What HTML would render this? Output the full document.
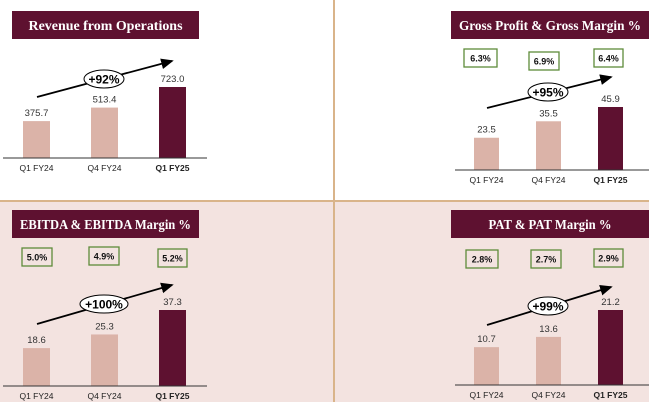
<!DOCTYPE html>
<html><head><meta charset="utf-8">
<style>
body{margin:0;width:649px;height:402px;overflow:hidden;background:#fff;font-family:"Liberation Sans",sans-serif;}
svg{display:block}
</style></head>
<body>
<svg id="c" width="649" height="402" xmlns="http://www.w3.org/2000/svg">
<defs><marker id="ah" markerWidth="8" markerHeight="8" refX="6" refY="4" orient="auto"><path d="M0,1 L7,4 L0,7 Z" fill="#000"/></marker></defs>
<rect x="0" y="201" width="649" height="201" fill="#f3e3e0"/>
<line x1="0" y1="201" x2="649" y2="201" stroke="#d9b48a" stroke-width="2"/>
<line x1="334" y1="0" x2="334" y2="402" stroke="#d9b48a" stroke-width="2"/>
</svg>
<script>
const categories=["Q1 FY24","Q4 FY24","Q1 FY25"];
const revenueValues=[375.7,513.4,723.0];
const grossValues=[23.5,35.5,45.9];
const ebitdaValues=[18.6,25.3,37.3];
const patValues=[10.7,13.6,21.2];
const grossMargins=["6.3%","6.9%","6.4%"];
const ebitdaMargins=["5.0%","4.9%","5.2%"];
const patMargins=["2.8%","2.7%","2.9%"];
const growthLabels=["+92%","+95%","+100%","+99%"];
const titles=["Revenue from Operations","Gross Profit & Gross Margin %","EBITDA & EBITDA Margin %","PAT & PAT Margin %"];

const NS="http://www.w3.org/2000/svg";
const svg=document.getElementById('c');
function mk(tag,attrs,parent){const e=document.createElementNS(NS,tag);for(const k in attrs)e.setAttribute(k,attrs[k]);(parent||svg).appendChild(e);return e;}

const panels=[
 {vals:revenueValues,margins:null,title:titles[0],tl:154,growth:growthLabels[0],tx:12,ty:11,tw:187,base:158,scale:71/723,bx:[23,91,159],bw:27,lx:3,lx2:207,arrow:[37,97,172,61],ell:[104,79,20,9],mb:[]},
 {vals:grossValues,margins:grossMargins,title:titles[1],tl:182,growth:growthLabels[1],tx:451,ty:11,tw:198,base:170,scale:63/45.9,bx:[474,536,598],bw:25,lx:455,lx2:649,arrow:[487,108,611,77],ell:[548,92,20,9],mb:[[464,49,33],[529,52,30],[594,49,29]]},
 {vals:ebitdaValues,margins:ebitdaMargins,title:titles[2],tl:171,growth:growthLabels[2],tx:12,ty:210,tw:187,base:386,scale:76/37.3,bx:[23,91,159],bw:27,lx:3,lx2:207,arrow:[37,324,172,285],ell:[104,304,24,9],mb:[[22,248,30],[89,247,30],[158,249,29]]},
 {vals:patValues,margins:patMargins,title:titles[3],tl:123,growth:growthLabels[3],tx:451,ty:210,tw:198,base:385,scale:75/21.2,bx:[474,536,598],bw:25,lx:455,lx2:649,arrow:[487,325,611,287],ell:[548,306,20,9],mb:[[466,250,32],[531,250,30],[594,249,29]]}
];
const names=["revenue","gross-profit","ebitda","pat"];
panels.forEach((p,pi)=>{
 const g=mk('g',{});
 
 
 const tb=mk('rect',{x:p.tx,y:p.ty,width:p.tw,height:28,fill:'#5e1130'},g);
 
 
 const tt=mk('text',{x:p.tx+p.tw/2,y:p.ty+19,'text-anchor':'middle',fill:'#fff','font-family':'"Liberation Serif",serif','font-weight':'bold','font-size':'14',textLength:p.tl,lengthAdjust:'spacingAndGlyphs'},g);
 tt.textContent=p.title;
 
 
 p.vals.forEach((v,i)=>{
  const h=v*p.scale;
  const r=mk('rect',{x:p.bx[i],y:p.base-h,width:p.bw,height:h,fill:i==2?'#5e1130':'#dbb3a8'},g);
  
  
  const t=mk('text',{x:p.bx[i]+p.bw/2,y:p.base-h-5,'text-anchor':'middle','font-size':'9.5',fill:'#333'},g);
  t.textContent=v.toFixed(1);
  
  
  const c=mk('text',{x:p.bx[i]+p.bw/2,y:p.base+13,'text-anchor':'middle','font-size':'8.5',fill:'#222','font-weight':i==2?'bold':'normal'},g);
  c.textContent=categories[i];
  
  
  if(p.margins){
   const m=p.mb[i];
   const mr=mk('rect',{x:m[0],y:m[1],width:m[2],height:18,fill:'none',stroke:'#5e8c3a','stroke-width':1.3},g);
   
   
   const mt=mk('text',{x:m[0]+m[2]/2,y:m[1]+12.5,'text-anchor':'middle','font-size':'9','font-weight':'bold',fill:'#111'},g);
   mt.textContent=p.margins[i];
   
   
  }
 });
 const bl=mk('line',{x1:p.lx,y1:p.base,x2:p.lx2,y2:p.base,stroke:'#333','stroke-width':1},g);
 
 
 const a=p.arrow;
 const ar=mk('line',{x1:a[0],y1:a[1],x2:a[2],y2:a[3],stroke:'#000','stroke-width':1.8,'marker-end':'url(#ah)'},g);
 
 
 const e=p.ell;
 const el=mk('ellipse',{cx:e[0],cy:e[1],rx:e[2],ry:e[3],fill:'#fff',stroke:'#000','stroke-width':1},g);
 
 
 const gt=mk('text',{x:e[0],y:e[1]+4.5,'text-anchor':'middle','font-size':'12','font-weight':'bold',fill:'#000'},g);
 gt.textContent=p.growth;
 
 
});
</script>
</body></html>
